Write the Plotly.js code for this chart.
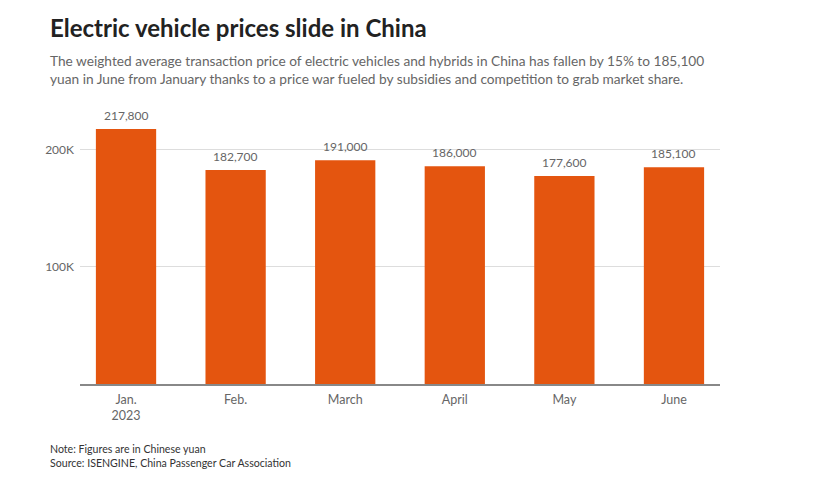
<!DOCTYPE html>
<html>
<head>
<meta charset="utf-8">
<script src="https://cdn.plot.ly/plotly-3.0.1.min.js"></script>
<style>
html,body{margin:0;padding:0;background:#fff;}
#chart{width:820px;height:480px;}
</style>
</head>
<body>
<div id="chart"></div>
<script>
const categories = ["Jan.<br>2023", "Feb.", "March", "April", "May", "June"];
const prices = [217800, 182700, 191000, 186000, 177600, 185100];
const priceLabels = ["217,800", "182,700", "191,000", "186,000", "177,600", "185,100"];
const yTickValues = [0, 100000, 200000];
const yTickLabels = ["", "100K", "200K"];

const titleText = "Electric vehicle prices slide in China";
const subtitleText = "The weighted average transaction price of electric vehicles and hybrids in China has fallen by 15% to 185,100<br>yuan in June from January thanks to a price war fueled by subsidies and competition to grab market share.";
const noteText = "Note: Figures are in Chinese yuan<br>Source: ISENGINE, China Passenger Car Association";

const FONT = "Lato, 'Open Sans', sans-serif";

const trace = {
  type: "bar",
  x: categories,
  y: prices,
  marker: {color: "#e4550f"},
  hoverinfo: "skip"
};

const valueAnnotations = categories.map((c, i) => ({
  x: c, y: prices[i], xref: "x", yref: "y",
  text: priceLabels[i], showarrow: false,
  xanchor: "center", yanchor: "bottom", yshift: 4,
  font: {family: FONT, size: 12, color: "#666"}
}));

const layout = {
  width: 820,
  height: 480,
  margin: {l: 80, r: 100, t: 102.5, b: 95.5},
  paper_bgcolor: "#fff",
  plot_bgcolor: "#fff",
  bargap: 0.45,
  showlegend: false,
  font: {family: FONT, color: "#666", size: 12},
  xaxis: {
    type: "category",
    range: [-0.42, 5.42],
    showgrid: false,
    showline: true,
    linecolor: "#888",
    linewidth: 1.5,
    ticks: "",
    ticklabelstandoff: 3,
    tickfont: {family: FONT, size: 12.5, color: "#666"},
    fixedrange: true
  },
  yaxis: {
    range: [0, 240000],
    tickvals: yTickValues,
    ticktext: yTickLabels,
    showgrid: true,
    gridcolor: "#ddd",
    gridwidth: 1,
    zeroline: false,
    showline: false,
    ticks: "",
    ticklabelstandoff: 5,
    tickfont: {family: FONT, size: 12, color: "#666"},
    fixedrange: true
  },
  annotations: valueAnnotations.concat([
    {text: "<b>" + titleText + "</b>", xref: "paper", yref: "paper", x: -0.05, y: 1, xanchor: "left", yanchor: "bottom",
     yshift: 59, showarrow: false, align: "left", font: {family: FONT, size: 24, color: "#222"}},
    {text: subtitleText, xref: "paper", yref: "paper", x: -0.05, y: 1, xanchor: "left", yanchor: "bottom",
     yshift: 14, showarrow: false, align: "left", font: {family: FONT, size: 13.7, color: "#666"}},
    {text: noteText, xref: "paper", yref: "paper", x: -0.05, y: 0, xanchor: "left", yanchor: "top",
     yshift: -57, showarrow: false, align: "left", font: {family: FONT, size: 10.6, color: "#333"}}
  ])
};

Plotly.newPlot("chart", [trace], layout, {displayModeBar: false, staticPlot: true});
</script>
</body>
</html>
